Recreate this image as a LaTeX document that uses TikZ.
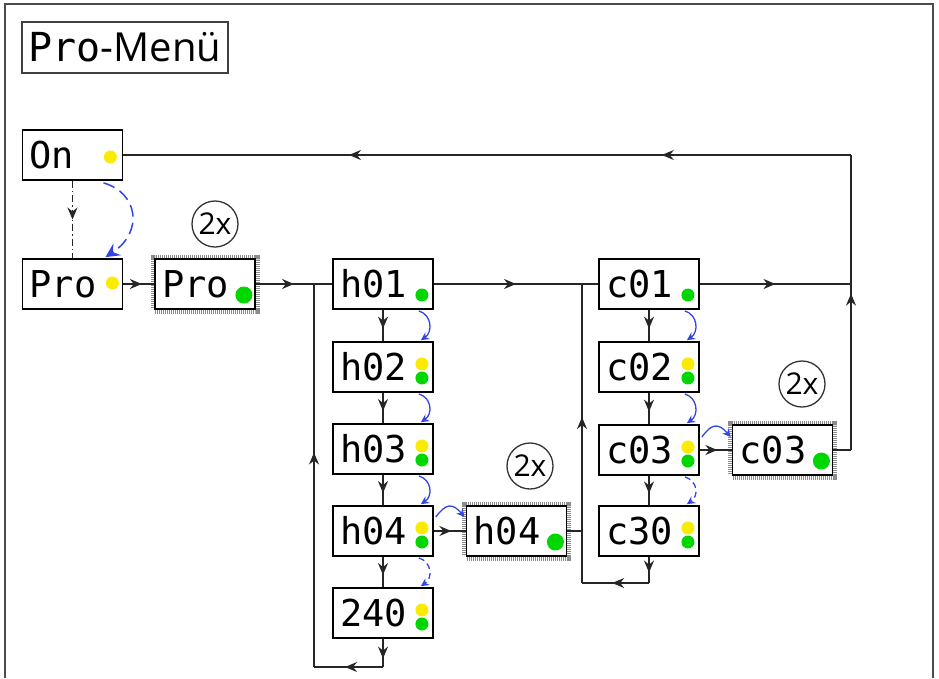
\documentclass[tikz,border=0pt]{standalone}
\usepackage{fontspec}
\setmainfont{Open Sans}
\newfontfamily\segfont{DejaVu Sans Mono}
\usetikzlibrary{arrows.meta,decorations.markings,calc}

\definecolor{ledyellow}{RGB}{250,235,0}
\definecolor{ledgreen}{RGB}{0,215,0}
\definecolor{arcblue}{RGB}{50,70,230}

\tikzset{
  display/.style={draw=black, line width=1.8pt, fill=white, minimum height=50pt,
    inner xsep=7pt, inner ysep=0pt, text width=86pt, align=left,
    font={\segfont\fontsize{37}{37}\selectfont}},
  glow/.style={display, preaction={draw=black!45, line width=9pt, dash pattern=on 0.8pt off 1.2pt}},
  link/.style={draw=black!85, line width=1.5pt},
  arr/.style={postaction={decorate, decoration={markings,
    mark=at position #1 with {\arrow{Stealth[length=12pt,width=10pt,inset=4pt]}}}}},
  bluearc/.style={draw=arcblue, line width=1.3pt, -{Stealth[length=8pt,width=8pt]}},
  twice/.style={circle, draw=black!80, line width=1.3pt, minimum size=46pt, inner sep=0pt,
    font={\fontsize{30}{30}\selectfont}},
}

\begin{document}
\begin{tikzpicture}[x=1pt,y=-1pt]
\useasboundingbox (0,0) rectangle (939,678);
% frame
\draw[black!70, line width=1.5pt] (5,678) -- (5,4) -- (933,4) -- (933,678);

% title
\node[draw=black!75, line width=1.5pt, minimum width=206pt, minimum height=51pt, inner sep=0pt,
  font={\fontsize{40}{40}\selectfont}] (title) at (125,47.5) {{\segfont Pro}-Menü};

% displays
\node[display] (On) at (72.5,155) {On};
\node[display] (Pro1) at (72.5,284) {Pro};
\node[glow] (Pro2) at (205,284) {Pro};

\node[display] (h01) at (383,284) {h01};
\node[display] (h02) at (383,367) {h02};
\node[display] (h03) at (383,449) {h03};
\node[display] (h04) at (383,531) {h04};
\node[display] (t240) at (383,613) {240};
\node[glow] (h04b) at (516.5,531) {h04};

\node[display] (c01) at (649,284) {c01};
\node[display] (c02) at (649,367) {c02};
\node[display] (c03) at (649,450) {c03};
\node[display] (c30) at (649,531) {c30};
\node[glow] (c03b) at (782.5,450) {c03};

\node[twice] (x1) at (215,224) {2x};
\node[twice] (x2) at (530,466) {2x};
\node[twice] (x3) at (802,384) {2x};

% leds
\fill[ledyellow] ($(On.east)+(-13,2)$) circle (6.5pt);
\fill[ledyellow] ($(Pro1.east)+(-11,-1)$) circle (6.5pt);
\foreach \n in {h01,c01}
  \fill[ledgreen] ($(\n.east)+(-12,11)$) circle (6.5pt);
\foreach \n in {h02,h03,h04,t240,c02,c03,c30} {
  \fill[ledyellow] ($(\n.east)+(-12,-3)$) circle (6.5pt);
  \fill[ledgreen] ($(\n.east)+(-12,11)$) circle (6.5pt);
}
\foreach \n in {Pro2,h04b,c03b}
  \fill[ledgreen] ($(\n.east)+(-12,11)$) circle (8.5pt);

% corners
\coordinate (hloopA) at (383,667);
\coordinate (hloopB) at (314,667);
\coordinate (hjoin) at (314,284);
\coordinate (cloopA) at (649,583);
\coordinate (cloopB) at (582,583);
\coordinate (cjoin) at (582,284);
\coordinate (cside) at (582,531);
\coordinate (rjoin) at (851,284);
\coordinate (rcorner) at (851,450);
\coordinate (rtop) at (851,155);

% links
\draw[link, dash pattern=on 7pt off 3pt on 1.5pt off 3pt, arr=0.5] (On) -- (Pro1);
\draw[link, arr=0.6] (Pro1) -- (Pro2);
\draw[link, arr=0.5] (Pro2) -- (h01);
\foreach \a/\b in {h01/h02,h02/h03,h03/h04,h04/t240,c01/c02,c02/c03,c03/c30}
  \draw[link, arr=0.6] (\a) -- (\b);
\draw[link, arr=0.7] (t240) -- (hloopA);
\draw[link, arr=0.55] (hloopA) -- (hloopB);
\draw[link, arr=0.56] (hloopB) -- (hjoin);
\draw[link, arr=0.5] (h01) -- (c01);
\draw[link, arr=0.55] (h04) -- (h04b);
\draw[link] (h04b) -- (cside);
\draw[link, arr=0.6] (c30) -- (cloopA);
\draw[link, arr=0.55] (cloopA) -- (cloopB);
\draw[link, arr=0.555] (cloopB) -- (cjoin);
\draw[link, arr=0.5] (c01) -- (rjoin);
\draw[link, arr=0.55] (c03) -- (c03b);
\draw[link] (c03b) -- (rcorner);
\draw[link, arr=0.53] (rcorner) -- (rtop);
\draw[link, arr=0.26, arr=0.69] (rtop) -- (On);

% blue arcs
\draw[bluearc, dash pattern=on 12pt off 6pt, line width=1.5pt, -{Stealth[length=14pt,width=14pt,inset=5pt]}]
  ($(On.south)+(31,2)$) .. controls +(35,10) and +(38,-25) .. ($(Pro1.north)+(33,-1)$);
\foreach \a/\b in {h01/h02,h02/h03,h03/h04,c01/c02,c02/c03}
  \draw[bluearc] ($(\a.south east)+(-15,1)$) .. controls +(13,4) and +(12,-8) .. ($(\b.north east)+(-13,-1)$);
\foreach \a/\b in {h04/t240,c03/c30}
  \draw[bluearc, dash pattern=on 6pt off 4pt] ($(\a.south east)+(-15,1)$) .. controls +(13,4) and +(12,-8) .. ($(\b.north east)+(-13,-1)$);
\draw[bluearc] ($(h04.east)+(2,-14)$) .. controls +(10,-14) and +(-12,-14) .. ($(h04b.west)+(-1,-14)$);
\draw[bluearc] ($(c03.east)+(2,-13)$) .. controls +(10,-14) and +(-12,-14) .. ($(c03b.west)+(-1,-13)$);
\end{tikzpicture}
\end{document}
